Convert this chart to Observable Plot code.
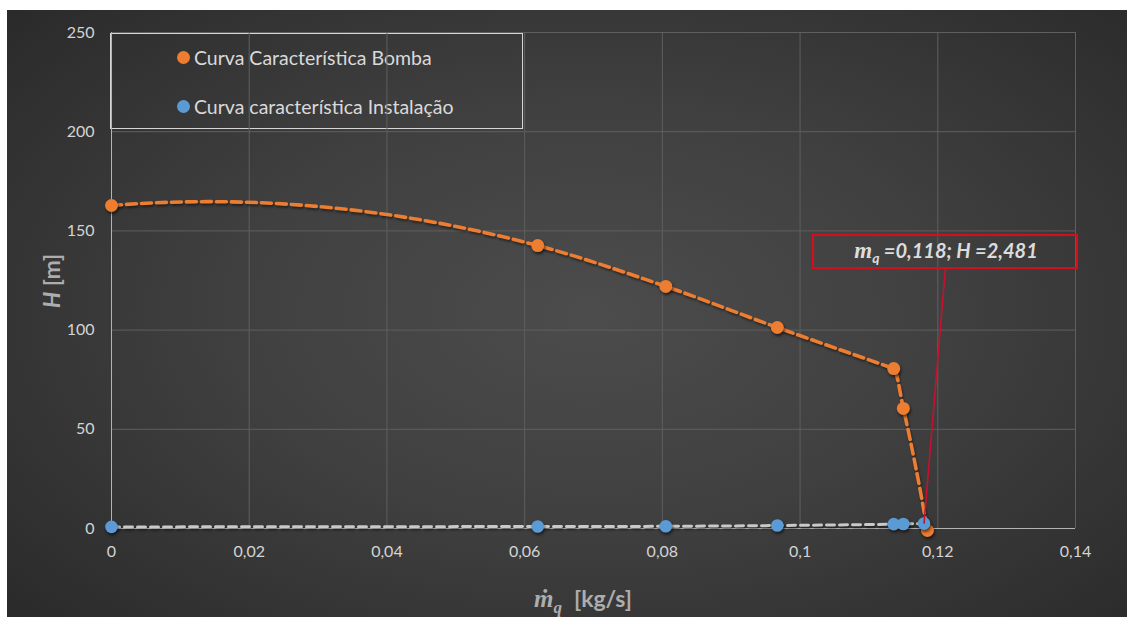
<!DOCTYPE html>
<html>
<head>
<meta charset="utf-8">
<script src="https://cdn.jsdelivr.net/npm/d3@7"></script>
<script src="https://cdn.jsdelivr.net/npm/@observablehq/plot@0.6"></script>
<style>
  html, body { margin: 0; padding: 0; background: #ffffff; }
  #frame {
    position: absolute; left: 7px; top: 10px; width: 1120px; height: 607px;
    background: radial-gradient(ellipse 70% 75% at 52% 50%, #4c4c4c 0%, #404040 45%, #2a2a2a 100%);
    font-family: Lato, "Open Sans", sans-serif;
  }
  #frame svg { position: absolute; left: 0; top: 0; overflow: visible; }
  #frame svg g[aria-label="dot"] { filter: drop-shadow(1px 2px 1.5px rgba(0,0,0,0.6)); }
  #frame svg g[aria-label="line"] { filter: drop-shadow(1px 2px 1px rgba(0,0,0,0.45)); }
  #legend {
    position: absolute; left: 103px; top: 23px; width: 411px; height: 94px;
    border: 1.5px solid #d6d6d6; color: #d9d9d9; font-size: 19.5px; line-height: 23px;
  }
  #legend .item { position: absolute; left: 66px; display: flex; align-items: center; white-space: nowrap; }
  #legend .sw { width: 13px; height: 13px; border-radius: 50%; margin-right: 4px; }
</style>
</head>
<body>
<div id="frame">
  <div id="legend"></div>
</div>
<script>
// Pump characteristic curve (mass flow in kg/s, head in m)
const pumpFlow = [0, 0.0619, 0.0805, 0.0967, 0.1136, 0.1150, 0.1185];
const pumpHead = [162.8, 142.6, 122.0, 101.3, 80.6, 60.5, -1.0];

// System (installation) characteristic curve
const systemFlow = [0, 0.0619, 0.0805, 0.0967, 0.1136, 0.1150, 0.118];
const systemHead = [0.8, 1.0, 1.1, 1.5, 2.2, 2.3, 2.481];

// Axis ticks
const xTicks = [0, 0.02, 0.04, 0.06, 0.08, 0.1, 0.12, 0.14];
const yTicks = [0, 50, 100, 150, 200, 250];

// Operating point callout (box and leader line in data units)
const operatingPoint = { x: 0.118, y: 2.481 };
const calloutBox = { x1: 0.10195, x2: 0.14029, y1: 131.0, y2: 147.7 };
const calloutAnchor = { x: 0.1211, y: 131.0 };

const seriesNames = ["Curva Característica Bomba", "Curva característica Instalação"];
const seriesColors = ["#ed7d31", "#5b9bd5"];

const pump = pumpFlow.map((x, i) => ({ x, y: pumpHead[i] }));
const system = systemFlow.map((x, i) => ({ x, y: systemHead[i] }));

const fmt = d => String(d).replace(".", ",");

// Smoothed spreadsheet-style line: cubic Hermite segments in x, with
// three-point (parabolic) tangents, damped where they would overshoot,
// and parabolic end conditions.
function smoothCurve(context) {
  let xs = [], ys = [];
  return {
    areaStart() {}, areaEnd() {},
    lineStart() { xs = []; ys = []; },
    point(x, y) { xs.push(+x); ys.push(+y); },
    lineEnd() {
      const n = xs.length;
      if (!n) return;
      context.moveTo(xs[0], ys[0]);
      if (n < 3) { if (n === 2) context.lineTo(xs[1], ys[1]); return; }
      const h = [], s = [], m = [];
      for (let i = 0; i < n - 1; i++) { h[i] = xs[i + 1] - xs[i]; s[i] = (ys[i + 1] - ys[i]) / h[i]; }
      for (let i = 1; i < n - 1; i++) {
        const a = s[i - 1], b = s[i];
        const p = (a * h[i] + b * h[i - 1]) / (h[i - 1] + h[i]);
        const lo = Math.min(Math.abs(a), Math.abs(b));
        m[i] = Math.abs(p) <= 3 * lo ? p : Math.sign(p) * lo;
      }
      m[0] = 2 * s[0] - m[1];
      m[n - 1] = 2 * s[n - 2] - m[n - 2];
      for (let i = 0; i < n - 1; i++) {
        const d = h[i] / 3;
        context.bezierCurveTo(xs[i] + d, ys[i] + d * m[i], xs[i + 1] - d, ys[i + 1] - d * m[i + 1], xs[i + 1], ys[i + 1]);
      }
    }
  };
}

const W = 1120, H = 607;
const chart = Plot.plot({
  width: W,
  height: H,
  marginLeft: 104,
  marginRight: 52,
  marginTop: 22,
  marginBottom: 89,
  style: { background: "transparent", fontFamily: "Lato, 'Open Sans', sans-serif", fontSize: "16px", color: "#d4d4d4" },
  x: { domain: [0, 0.14], ticks: xTicks },
  y: { domain: [0, 250], ticks: yTicks },
  marks: [
    Plot.gridX(xTicks.slice(1), { stroke: "#5f5f5f", strokeOpacity: 1, strokeWidth: 1 }),
    Plot.gridY(yTicks.slice(1), { stroke: "#5f5f5f", strokeOpacity: 1, strokeWidth: 1 }),
    Plot.ruleX([0], { stroke: "#b3b3b3", strokeWidth: 1 }),
    Plot.ruleY([0], { stroke: "#b3b3b3", strokeWidth: 1 }),
    Plot.axisX(xTicks, { tickSize: 0, tickPadding: 17, tickFormat: fmt, fill: "#d4d4d4", fontSize: 16, label: null }),
    Plot.axisY(yTicks, { tickSize: 0, tickPadding: 17, tickFormat: fmt, fill: "#d4d4d4", fontSize: 16, label: null }),
    // pump curve
    Plot.line(pump, { x: "x", y: "y", curve: smoothCurve, stroke: seriesColors[0], strokeWidth: 3.6, strokeDasharray: "10,5", clip: false }),
    Plot.dot(pump, { x: "x", y: "y", r: 6.5, fill: seriesColors[0], stroke: "none", clip: false }),
    // installation curve
    Plot.line(system, { x: "x", y: "y", curve: smoothCurve, stroke: "#c9c9c9", strokeWidth: 3, strokeDasharray: "8,5" }),
    Plot.dot(system, { x: "x", y: "y", r: 6.3, fill: seriesColors[1], stroke: "none" }),
    // operating point callout
    Plot.link([calloutAnchor], { x1: "x", y1: "y", x2: () => operatingPoint.x, y2: () => operatingPoint.y, stroke: "#c8102e", strokeWidth: 1.6, clip: false }),
    Plot.rect([calloutBox], { x1: "x1", x2: "x2", y1: "y1", y2: "y2", fill: "none", stroke: "#d0101e", strokeWidth: 2.2, clip: false })
  ]
});

document.getElementById("frame").appendChild(chart);

const svg = d3.select(chart);
const sx = chart.scale("x"), sy = chart.scale("y");

// callout text with subscript
const cx = (sx.apply(calloutBox.x1) + sx.apply(calloutBox.x2)) / 2;
const cy = (sy.apply(calloutBox.y1) + sy.apply(calloutBox.y2)) / 2;
const ct = svg.append("text")
  .attr("x", cx + 1).attr("y", cy + 6)
  .attr("text-anchor", "middle")
  .attr("fill", "#dcdcdc")
  .attr("font-size", 20)
  .attr("font-weight", "bold")
  .attr("font-style", "italic")
  .attr("font-family", "Lato, sans-serif");
ct.append("tspan").attr("font-family", "'Liberation Serif', serif").attr("font-size", 23).text("m");
ct.append("tspan").attr("dy", 5).attr("font-size", 14).text("q");
ct.append("tspan").attr("dy", -5).text(" =" + fmt(operatingPoint.x) + "; H =" + fmt(operatingPoint.y));

// x axis title
const xt = svg.append("text")
  .attr("x", 576).attr("y", 597)
  .attr("text-anchor", "middle")
  .attr("fill", "#adadad")
  .attr("font-size", 23)
  .attr("font-weight", "bold")
  .attr("font-family", "Lato, sans-serif");
xt.append("tspan").attr("font-family", "'Liberation Serif', serif").attr("font-style", "italic").attr("font-size", 25).text("ṁ");
xt.append("tspan").attr("dy", 6).attr("font-style", "italic").attr("font-family", "'Liberation Serif', serif").attr("font-size", 17).text("q");
xt.append("tspan").attr("dy", -6).attr("dx", 12).text("[kg/s]");

// y axis title
const yt = svg.append("text")
  .attr("transform", "translate(44,271) rotate(-90)")
  .attr("text-anchor", "middle")
  .attr("dominant-baseline", "central")
  .attr("fill", "#adadad")
  .attr("font-size", 23)
  .attr("font-weight", "bold")
  .attr("font-family", "Lato, sans-serif");
yt.append("tspan").attr("font-style", "italic").text("H");
yt.append("tspan").text(" [m]");

// legend
const legend = d3.select("#legend");
seriesNames.forEach((name, i) => {
  const item = legend.append("div").attr("class", "item").style("top", (i === 0 ? 12 : 61) + "px");
  item.append("div").attr("class", "sw").style("background", seriesColors[i]);
  item.append("span").text(name);
});
</script>
</body>
</html>
